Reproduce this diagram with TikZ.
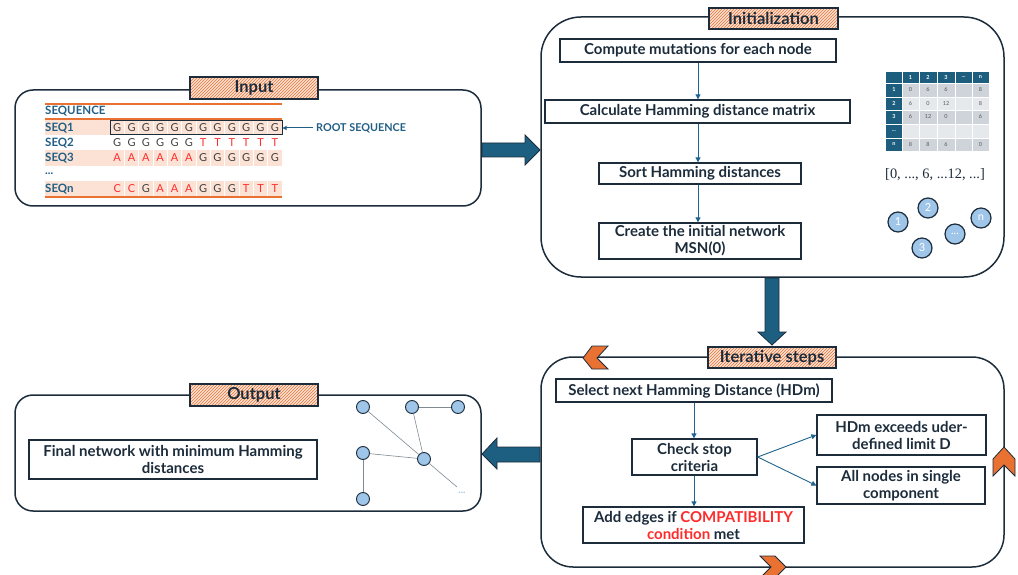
\documentclass[tikz,border=0pt]{standalone}
\usepackage{fontspec}
\setmainfont{Lato}
\newfontfamily\listfont{Liberation Serif}
\usetikzlibrary{patterns,arrows.meta}

\definecolor{cNavy}{HTML}{1C2C3B}
\definecolor{cFlow}{HTML}{1F6390}
\definecolor{cBlock}{HTML}{1D5F80}
\definecolor{cOrange}{HTML}{E97132}
\definecolor{cPeach}{HTML}{FBE2D5}
\definecolor{cLabel}{HTML}{215E85}
\definecolor{cRed}{HTML}{FF2B2B}
\definecolor{cLetter}{HTML}{3F3F3F}
\definecolor{cNode}{HTML}{9FC5E8}
\definecolor{cCellA}{HTML}{CED4D9}
\definecolor{cCellB}{HTML}{E6E9EC}
\definecolor{cHead}{HTML}{1D5E7E}
\definecolor{cEdge}{HTML}{7F8A93}
\definecolor{cCellTxt}{HTML}{555555}
\newcommand\mdots{...}

\begin{document}
\begin{tikzpicture}[x=1pt,y=-1pt,
  panel/.style={draw=cNavy, line width=1.5pt, inner sep=0pt, rectangle},
  titlebox/.style={draw=cNavy, line width=1.2pt, inner sep=0pt,
    preaction={fill=cPeach}, pattern=north east lines, pattern color=cOrange,
    text=cNavy, font=\bfseries\fontsize{16.5}{18}\selectfont},
  stepbox/.style={draw=cNavy, line width=1.3pt, fill=white, inner sep=0pt,
    align=center, text=cNavy, font=\bfseries\fontsize{15}{17}\selectfont},
  flow/.style={draw=cFlow, line width=0.9pt, -{Triangle[length=5pt,width=5pt]}},
  block/.style={fill=cBlock, draw=cNavy, line width=0.8pt},
  chev/.style={fill=cOrange, draw=cNavy, line width=0.8pt},
  rowlbl/.style={anchor=west, inner sep=0pt, text=cLabel, font=\bfseries\fontsize{11.5}{13}\selectfont},
  base/.style={inner sep=0pt, font=\fontsize{11}{12}\selectfont},
  celltxt/.style={inner sep=0pt, font=\fontsize{5.5}{6}\selectfont},
  bignode/.style={circle, draw=cNavy, line width=1.2pt, fill=cNode, minimum size=20pt, inner sep=0pt, text=white, font=\fontsize{11}{12}\selectfont},
  smallnode/.style={circle, draw=cNavy, line width=0.9pt, fill=cNode, minimum size=13pt, inner sep=0pt},
  netedge/.style={draw=cEdge, line width=0.6pt}
]
\useasboundingbox (0,0) rectangle (1018,575);

% ---------- panels ----------
\node[panel, minimum width=466, minimum height=116, rounded corners=18] (inpanel) at (248,148) {};
\node[panel, minimum width=463, minimum height=260, rounded corners=40] (initpanel) at (772.5,147) {};
\node[panel, minimum width=463, minimum height=210, rounded corners=32] (iterpanel) at (772.5,462) {};
\node[panel, minimum width=466, minimum height=116, rounded corners=18] (outpanel) at (248,453) {};

% ---------- block arrows between panels ----------
\draw[block] (482,143) -- (525,143) -- (525,135) -- (540,150) -- (525,165) -- (525,157) -- (482,157) -- cycle;
\draw[block] (765,278) -- (779,278) -- (779,332) -- (786,332) -- (772,345) -- (758,332) -- (765,332) -- cycle;
\draw[block] (540,447) -- (497,447) -- (497,438) -- (482,454) -- (497,469) -- (497,462) -- (540,462) -- cycle;

% ---------- chevrons on the iteration loop ----------
\draw[chev] (583,358) -- (592,346) -- (608,346) -- (597,358) -- (608,369) -- (592,369) -- cycle;
\draw[chev] (1004,447) -- (1015,459) -- (1015,476) -- (1004,465) -- (993,476) -- (993,459) -- cycle;
\draw[chev] (786,567) -- (775,556) -- (760,556) -- (771,567) -- (760,578) -- (775,578) -- cycle;

% ---------- titles ----------
\node[titlebox, minimum width=128, minimum height=22] (tin) at (254,88) {Input};
\node[titlebox, minimum width=129, minimum height=21] (tinit) at (773.5,18.5) {Initialization};
\node[titlebox, minimum width=128, minimum height=21] (titer) at (772,357.5) {Iterative steps};
\node[titlebox, minimum width=128, minimum height=22] (tout) at (254,395) {Output};

% ---------- input sequences table ----------
\fill[cPeach] (45,119) rectangle (282,135);
\fill[cPeach] (45,150) rectangle (282,166);
\fill[cPeach] (45,181) rectangle (282,196);
\foreach \k in {1,2,3,4,5,6,7,8,9,10,11}{
  \draw[white, line width=0.5pt] ({110+14.33*\k},119) -- ({110+14.33*\k},135);
  \draw[white, line width=0.5pt] ({110+14.33*\k},150) -- ({110+14.33*\k},166);
  \draw[white, line width=0.5pt] ({110+14.33*\k},181) -- ({110+14.33*\k},196);
}
\draw[cOrange, line width=1.1pt] (45,104) -- (282,104);
\draw[cOrange, line width=1.1pt] (45,119) -- (282,119);
\draw[cOrange, line width=1.1pt] (45,197) -- (282,197);

\node[rowlbl] (lhead) at (45,111.5) {SEQUENCE};
\node[rowlbl] (l1) at (45,128) {SEQ1};
\node[rowlbl] (l2) at (45,143) {SEQ2};
\node[rowlbl] (l3) at (45,158) {SEQ3};
\node[rowlbl] (ldots) at (45,174) {...};
\node[rowlbl] (ln) at (45,189) {SEQn};

\foreach \ch/\cc [count=\i from 0] in {G/cLetter,G/cLetter,G/cLetter,G/cLetter,G/cLetter,G/cLetter,G/cLetter,G/cLetter,G/cLetter,G/cLetter,G/cLetter,G/cLetter}
  \node[base, text=\cc] (sa\i) at ({117.2+14.33*\i},128) {\ch};
\foreach \ch/\cc [count=\i from 0] in {G/cLetter,G/cLetter,G/cLetter,G/cLetter,G/cLetter,G/cLetter,T/cRed,T/cRed,T/cRed,T/cRed,T/cRed,T/cRed}
  \node[base, text=\cc] (sb\i) at ({117.2+14.33*\i},143) {\ch};
\foreach \ch/\cc [count=\i from 0] in {A/cRed,A/cRed,A/cRed,A/cRed,A/cRed,A/cRed,G/cLetter,G/cLetter,G/cLetter,G/cLetter,G/cLetter,G/cLetter}
  \node[base, text=\cc] (sc\i) at ({117.2+14.33*\i},158) {\ch};
\foreach \ch/\cc [count=\i from 0] in {C/cRed,C/cRed,G/cLetter,A/cRed,A/cRed,A/cRed,G/cLetter,G/cLetter,G/cLetter,T/cRed,T/cRed,T/cRed}
  \node[base, text=\cc] (sn\i) at ({117.2+14.33*\i},189) {\ch};

\node[draw=cNavy, line width=1pt, minimum width=172, minimum height=14, inner sep=0pt] (root) at (196,128) {};
\node[anchor=west, inner sep=0pt, text=cLabel, font=\bfseries\fontsize{10.8}{12}\selectfont] (rootlbl) at (316,128) {ROOT SEQUENCE};
\coordinate (rootarr) at (313,128);
\draw[cLabel, line width=1pt, -{Triangle[length=4pt,width=4pt]}] (rootarr) -- (root.east);

% ---------- initialization steps ----------
\node[stepbox, minimum width=276, minimum height=23] (i1) at (698,50.5) {Compute mutations for each node};
\node[stepbox, minimum width=305, minimum height=23] (i2) at (697.5,111.5) {Calculate Hamming distance matrix};
\node[stepbox, minimum width=202, minimum height=21] (i3) at (700,173.5) {Sort Hamming distances};
\node[stepbox, minimum width=202, minimum height=36] (i4) at (700,241) {Create the initial network\\MSN(0)};
\draw[flow] (698,0 |- i1.south) -- (698,0 |- i2.north);
\draw[flow] (698,0 |- i2.south) -- (698,0 |- i3.north);
\draw[flow] (698,0 |- i3.south) -- (698,0 |- i4.north);

% ---------- distance matrix ----------
\fill[cHead] (886,72) rectangle (989,83);
\fill[cHead] (886,83) rectangle (902,151);
\foreach \ya/\yb/\fc in {83/97/cCellA,97/110/cCellB,110/124/cCellA,124/138/cCellB,138/151/cCellA}
  \fill[\fc] (902,\ya) rectangle (989,\yb);
\foreach \xx in {902,919,937,955,972}
  \draw[white, line width=0.9pt] (\xx,72) -- (\xx,151);
\foreach \yy in {83,97,110,124,138}
  \draw[white, line width=0.9pt] (886,\yy) -- (989,\yy);
\foreach \t/\xm [count=\i] in {1/910.5,2/928,3/946,\mdots/963.5,n/980.5}
  \node[celltxt, text=white, font=\bfseries\fontsize{5.5}{6}\selectfont] (mh\i) at (\xm,77.5) {\t};
\foreach \t/\ym [count=\i] in {1/90,2/103.5,3/117,\mdots/131,n/144.5}
  \node[celltxt, text=white, font=\bfseries\fontsize{5.5}{6}\selectfont] (mv\i) at (894,\ym) {\t};
\foreach \a/\b/\c/\e/\ym [count=\r] in {0/6/6/8/90, 6/0/12/8/103.5, 6/12/0/6/117, 8/8/6/0/144.5}{
  \node[celltxt, text=cCellTxt] (ma\r) at (910.5,\ym) {\a};
  \node[celltxt, text=cCellTxt] (mb\r) at (928,\ym) {\b};
  \node[celltxt, text=cCellTxt] (mc\r) at (946,\ym) {\c};
  \node[celltxt, text=cCellTxt] (me\r) at (980.5,\ym) {\e};
}

\node[inner sep=0pt, text=cNavy, font=\listfont\fontsize{14.4}{16}\selectfont] (sorted) at (935,175) {[0, ..., 6, ...12, ...]};

% ---------- initial isolated nodes ----------
\node[bignode] (c1) at (898,222) {1};
\node[bignode] (c2) at (928,208) {2};
\node[bignode] (c3) at (922,248) {3};
\node[bignode] (cd) at (955,234) {...};
\node[bignode] (cn) at (981,218) {n};

% ---------- iterative steps ----------
\node[stepbox, minimum width=276, minimum height=23] (s1) at (694,390.5) {Select next Hamming Distance (HDm)};
\node[stepbox, minimum width=125, minimum height=36] (s2) at (694.5,457) {Check stop\\criteria};
\node[stepbox, minimum width=169, minimum height=40] (s3) at (901.5,435) {HDm exceeds uder-\\defined limit D};
\node[stepbox, minimum width=168, minimum height=37] (s4) at (901,485.5) {All nodes in single\\component};
\node[stepbox, minimum width=221, minimum height=36] (s5) at (693.5,525) {Add edges if \textcolor{cRed}{COMPATIBILITY}\\\textcolor{cRed}{condition} met};
\draw[flow] (694,0 |- s1.south) -- (694,0 |- s2.north);
\draw[flow] (694,0 |- s2.south) -- (694,0 |- s5.north);
\draw[flow] (s2.east) -- (s3.west);
\draw[flow] (s2.east) -- (s4.west);

% ---------- output ----------
\node[stepbox, minimum width=288, minimum height=39] (o1) at (173,459.5) {Final network with minimum Hamming\\distances};

\node[smallnode] (n1) at (363,407) {};
\node[smallnode] (n2) at (412,407) {};
\node[smallnode] (n3) at (458,407) {};
\node[smallnode] (n4) at (363,453) {};
\node[smallnode] (n5) at (424,459) {};
\node[smallnode] (n6) at (363,499) {};
\coordinate (nend) at (457,487);
\node[inner sep=0pt, text=cNode, font=\bfseries\fontsize{10}{10}\selectfont] (nmore) at (462,493) {...};
\draw[netedge] (n2) -- (n3);
\draw[netedge] (n1) -- (n5);
\draw[netedge] (n2) -- (n5);
\draw[netedge] (n4) -- (n5);
\draw[netedge] (n4) -- (n6);
\draw[netedge] (n5) -- (nend);
\end{tikzpicture}
\end{document}
